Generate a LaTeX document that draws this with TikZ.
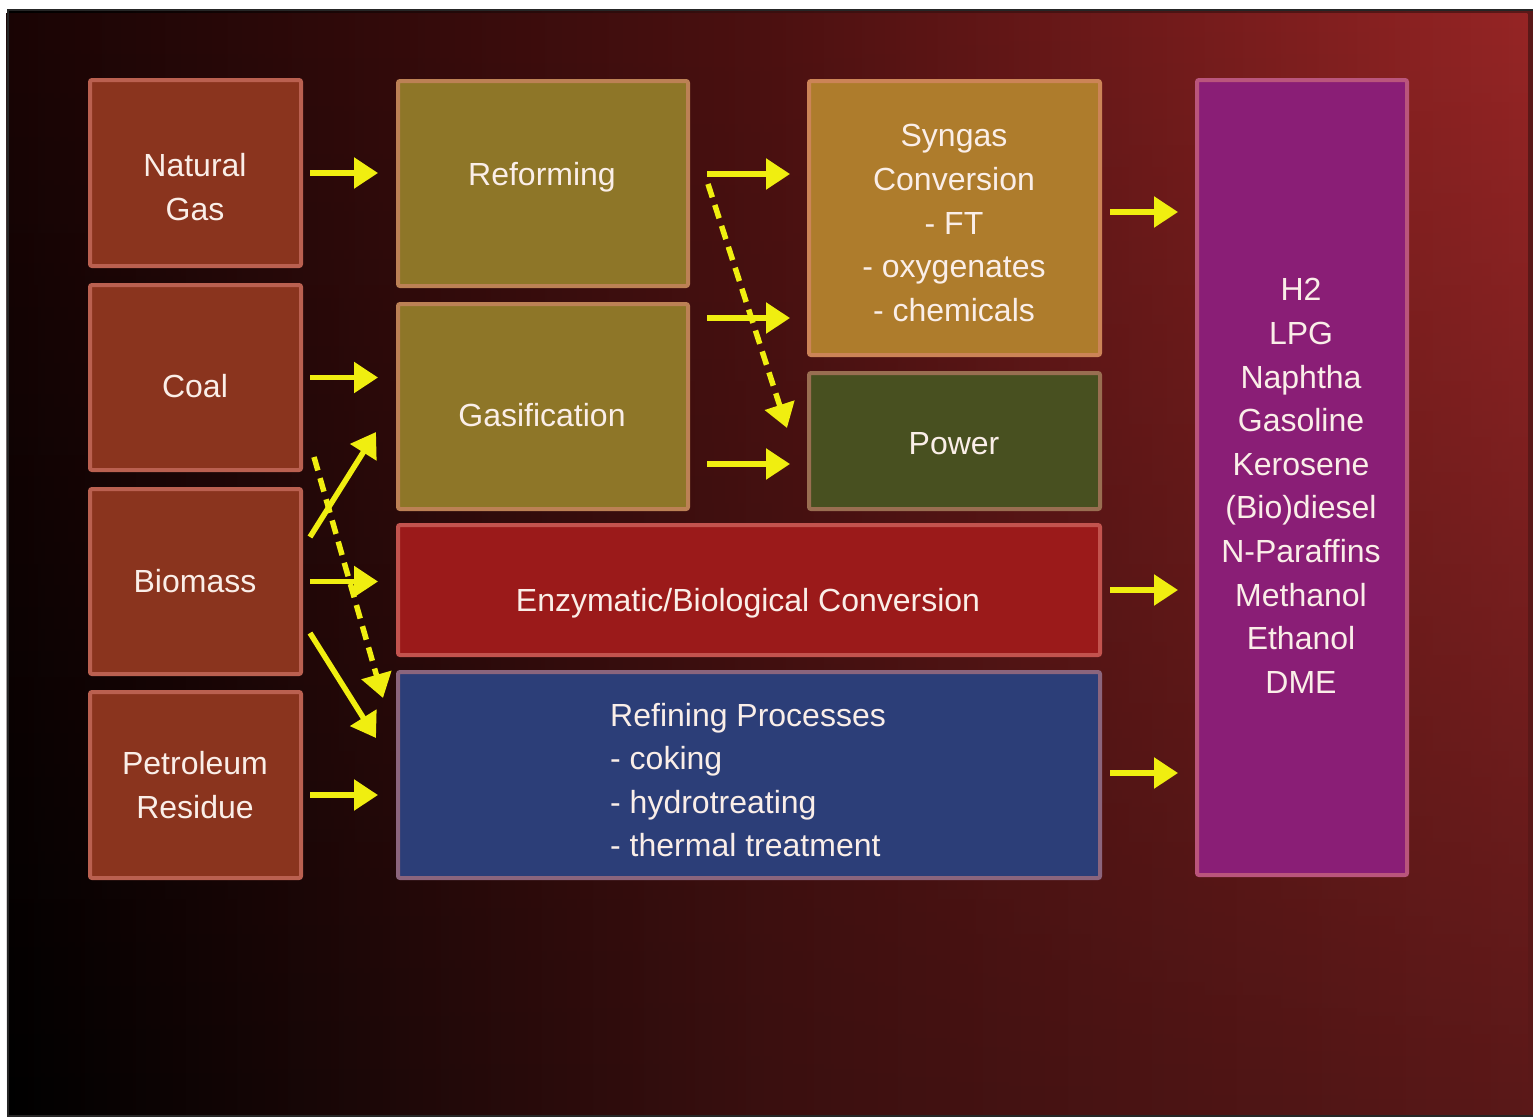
\documentclass[tikz,border=0pt]{standalone}
\usepackage{fontspec}
\setmainfont{Liberation Sans}
\usetikzlibrary{arrows.meta,calc,fadings}

\definecolor{bgbotmid}{RGB}{58,15,15}
\definecolor{bgbotright}{RGB}{90,24,24}
\definecolor{bgtopleft}{RGB}{26,5,5}
\definecolor{bgtopmid}{RGB}{76,17,17}
\definecolor{bgtopright}{RGB}{150,37,37}
\definecolor{srcfill}{RGB}{138,52,30}
\definecolor{olivefill}{RGB}{142,118,40}
\definecolor{syngasfill}{RGB}{174,124,44}
\definecolor{powerfill}{RGB}{72,80,32}
\definecolor{enzfill}{RGB}{155,26,26}
\definecolor{refinfill}{RGB}{44,62,120}
\definecolor{prodfill}{RGB}{138,30,118}
\definecolor{rim}{RGB}{235,140,130}
\definecolor{arrowyellow}{RGB}{240,238,16}
\definecolor{txt}{RGB}{250,238,232}

\tikzset{
  box/.style={draw=#1!50!rim, fill=#1, line width=4pt, rounded corners=2pt, inner sep=0pt},
  lbl/.style={text=txt, font=\fontsize{32}{43.6}\selectfont, align=center, inner sep=0pt},
  flow/.style={draw=arrowyellow, line width=5.5pt, -{Triangle[length=24pt,width=30pt]}},
  dflow/.style={flow, dash pattern=on 14pt off 8pt},
}

\begin{document}
\begin{tikzpicture}[x=1pt,y=-1pt]
\useasboundingbox (0,0) rectangle (1533,1117);
\fill[white] (0,0) rectangle (1533,1117);
\shade[left color=black, right color=bgbotright, middle color=bgbotmid] (8,10) rectangle (1533,1116);
\shade[left color=bgtopleft, right color=bgtopright, middle color=bgtopmid, path fading=south] (8,10) rectangle (1533,1116);
\draw[black!85, line width=1.2pt] (1533,10) -- (8,10) -- (8,1116) -- (1533,1116);

% source boxes
\node[box=srcfill, minimum width=211pt, minimum height=186pt] (ng)   at (195.5,173)   {};
\node[box=srcfill, minimum width=211pt, minimum height=185pt] (coal) at (195.5,377.5) {};
\node[box=srcfill, minimum width=211pt, minimum height=185pt] (bio)  at (195.5,581.5) {};
\node[box=srcfill, minimum width=211pt, minimum height=186pt] (pet)  at (195.5,785)   {};
% process boxes
\node[box=olivefill, minimum width=290pt, minimum height=205pt] (ref) at (543,183.5) {};
\node[box=olivefill, minimum width=290pt, minimum height=205pt] (gas) at (543,406.5) {};
\node[box=syngasfill, minimum width=291pt, minimum height=274pt] (syn) at (954.5,218) {};
\node[box=powerfill, minimum width=291pt, minimum height=136pt] (pow) at (954.5,441) {};
\node[box=enzfill, minimum width=702pt, minimum height=130pt] (enz) at (749,590) {};
\node[box=refinfill, minimum width=702pt, minimum height=206pt] (refp) at (749,775) {};
\node[box=prodfill, minimum width=210pt, minimum height=795pt] (prod) at (1302,477.5) {};

% labels
\node[lbl] (ngt)   at (195,187) {Natural\\Gas};
\node[lbl] (coalt) at (195,386) {Coal};
\node[lbl] (biot)  at (195,581) {Biomass};
\node[lbl] (pett)  at (195,785) {Petroleum\\Residue};
\node[lbl] (reft)  at (542,177) {Reforming};
\node[lbl] (gast)  at (542,415) {Gasification};
\node[lbl] (synt)  at (954,223) {Syngas\\Conversion\\- FT\\- oxygenates\\- chemicals};
\node[lbl] (powt)  at (954,444) {Power};
\node[lbl] (enzt)  at (748,603) {Enzymatic/Biological Conversion};
\node[lbl, align=left, anchor=west] (refpt) at (610,780) {Refining Processes\\- coking\\- hydrotreating\\- thermal treatment};
\node[lbl] (prodt) at (1301,486) {H2\\LPG\\Naphtha\\Gasoline\\Kerosene\\(Bio)diesel\\N-Paraffins\\Methanol\\Ethanol\\DME};

% arrows: sources -> processes
\draw[flow, shorten <=7pt, shorten >=18pt] (ng.east) -- (ng.east -| ref.west);
\draw[flow, shorten <=7pt, shorten >=18pt] (coal.east) -- (coal.east -| gas.west);
\draw[flow] ($(bio.east)+(7,-44.5)$) -- ($(gas.west)+(-20,25.5)$);
\draw[flow, shorten <=7pt, shorten >=18pt] (bio.east) -- (bio.east -| enz.west);
\draw[flow] ($(bio.east)+(7,51.5)$) -- ($(refp.west)+(-20,-37)$);
\draw[dflow] ($(coal.east)+(11,79.5)$) -- ($(refp.west)+(-13,-77)$);
\draw[flow] ($(pet.east)+(7,10)$) -- ($(pet.east -| refp.west)+(-18,10)$);

% processes -> conversion / power
\draw[flow] ($(ref.east)+(17,-9.5)$) -- ($(ref.east -| syn.west)+(-17,-9.5)$);
\draw[dflow] ($(ref.east)+(18,0.5)$) -- ($(pow.west)+(-20,-13)$);
\draw[flow] ($(gas.east)+(17,-88.5)$) -- ($(gas.east -| syn.west)+(-17,-88.5)$);
\draw[flow] ($(gas.east)+(17,57.5)$) -- ($(gas.east -| pow.west)+(-17,57.5)$);

% -> products
\draw[flow] ($(syn.east)+(8,-6)$) -- ($(syn.east -| prod.west)+(-17,-6)$);
\draw[flow] ($(enz.east)+(8,0)$) -- ($(enz.east -| prod.west)+(-17,0)$);
\draw[flow] ($(refp.east)+(8,-2)$) -- ($(refp.east -| prod.west)+(-17,-2)$);
\end{tikzpicture}
\end{document}
